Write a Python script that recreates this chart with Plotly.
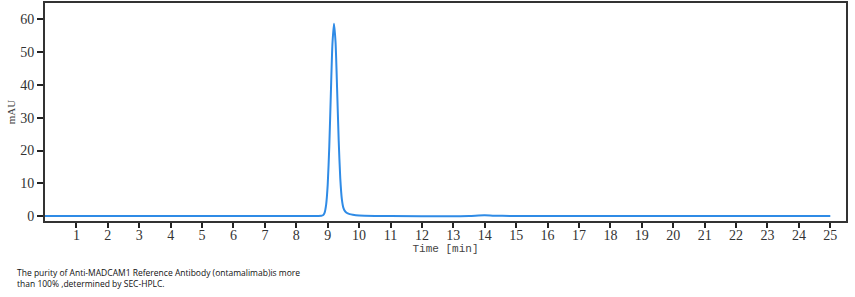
import plotly.graph_objects as go

# Chromatogram trace (time in min, absorbance in mAU)
time_min = [0.0, 8.0, 8.7, 8.8, 8.85, 8.9, 8.95, 9.0, 9.05, 9.1, 9.15, 9.2,
            9.25, 9.3, 9.35, 9.4, 9.45, 9.5, 9.55, 9.6, 9.7, 9.8, 10.0, 10.5,
            11.0, 13.5, 13.8, 14.0, 14.3, 14.8, 15.5, 25.0]
mau = [0.0, 0.0, 0.05, 0.1, 0.25, 1.0, 3.5, 9.6, 21.2, 37.3, 52.4, 58.7,
       53.0, 38.5, 23.0, 11.5, 5.2, 2.5, 1.5, 1.0, 0.6, 0.4, 0.2, 0.05,
       0.0, 0.0, 0.2, 0.25, 0.12, 0.04, 0.0, 0.0]

x_ticks = list(range(1, 26))
y_ticks = [0, 10, 20, 30, 40, 50, 60]
caption = ("The purity of Anti-MADCAM1 Reference Antibody (ontamalimab)is more<br>"
           "than 100% ,determined by SEC-HPLC.")

W, H = 855, 297
L, R, T, B = 45, 9, 3, 76
plot_h = H - T - B
plot_w = W - L - R

fig = go.Figure()
fig.add_trace(go.Scatter(x=time_min, y=mau, mode="lines",
                         line=dict(color="#2f8be6", width=2, shape="spline", smoothing=0.6),
                         hoverinfo="skip", showlegend=False))

axis_font = dict(family="Liberation Serif, DejaVu Serif, serif", size=14, color="#333")
fig.update_layout(
    template="none",
    width=W, height=H,
    margin=dict(l=L, r=R, t=T, b=B),
    paper_bgcolor="white", plot_bgcolor="white",
    xaxis=dict(range=[0, 25.5], tickvals=x_ticks, ticks="outside", ticklen=5,
               tickwidth=1.5, tickcolor="#222", showline=True, linecolor="#333",
               linewidth=2, mirror=True, showgrid=False, zeroline=False,
               automargin=False, tickfont=axis_font, ticklabelstandoff=-5,
               title=dict(text="Time [min]", standoff=1,
                          font=dict(family="Liberation Mono, DejaVu Sans Mono, monospace",
                                    size=11, color="#444"))),
    yaxis=dict(range=[-1.5, 65], tickvals=y_ticks, ticks="outside", ticklen=6,
               tickwidth=1.5, tickcolor="#222", showline=True, linecolor="#333",
               linewidth=2, mirror=True, showgrid=False, zeroline=False,
               automargin=False, tickfont=axis_font,
               title=dict(text="mAU", standoff=2,
                          font=dict(family="Liberation Serif, DejaVu Serif, serif",
                                    size=11, color="#444"))),
)

fig.add_annotation(text=caption, xref="paper", yref="paper",
                   x=(15 - L) / plot_w, y=(plot_h + T - 265) / plot_h,
                   xanchor="left", yanchor="top", align="left", showarrow=False,
                   font=dict(family="Open Sans, Liberation Sans, sans-serif", size=8.5,
                             color="#111"))

fig.write_html("out.html")
